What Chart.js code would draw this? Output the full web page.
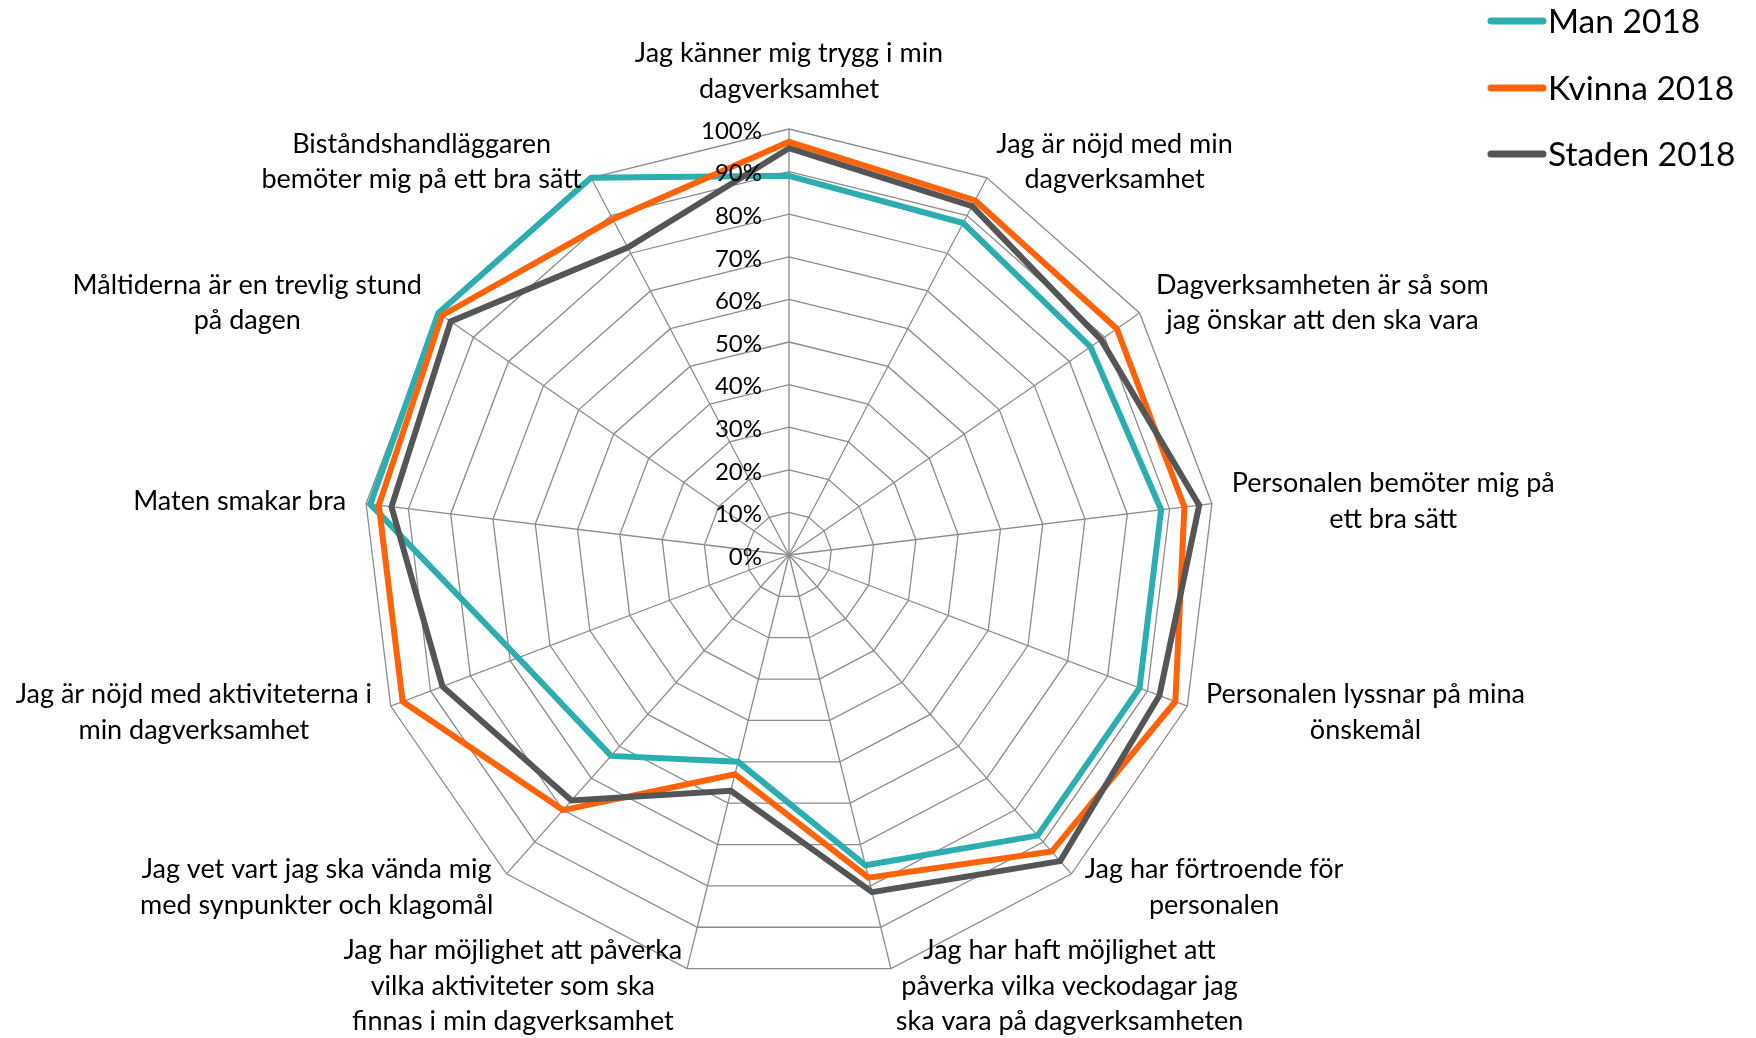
<!DOCTYPE html>
<html>
<head>
<meta charset="utf-8">
<title>Dagverksamhet 2018</title>
<script src="https://cdn.jsdelivr.net/npm/chart.js@4.4.1/dist/chart.umd.min.js"></script>
<style>
  html, body { margin: 0; padding: 0; background: #fff; }
  canvas { display: block; }
</style>
</head>
<body>
<canvas id="chart" width="1756" height="1038"></canvas>
<script>
'use strict';

// Questions, clockwise from the top. Line breaks as in the original.
var categories = [
  ['Jag känner mig trygg i min', 'dagverksamhet'],
  ['Jag är nöjd med min', 'dagverksamhet'],
  ['Dagverksamheten är så som', 'jag önskar att den ska vara'],
  ['Personalen bemöter mig på', 'ett bra sätt'],
  ['Personalen lyssnar på mina', 'önskemål'],
  ['Jag har förtroende för', 'personalen'],
  ['Jag har haft möjlighet att', 'påverka vilka veckodagar jag', 'ska vara på dagverksamheten'],
  ['Jag har möjlighet att påverka', 'vilka aktiviteter som ska', 'finnas i min dagverksamhet'],
  ['Jag vet vart jag ska vända mig', 'med synpunkter och klagomål'],
  ['Jag är nöjd med aktiviteterna i', 'min dagverksamhet'],
  ['Maten smakar bra'],
  ['Måltiderna är en trevlig stund', 'på dagen'],
  ['Biståndshandläggaren', 'bemöter mig på ett bra sätt']
];

var seriesNames = ['Man 2018', 'Kvinna 2018', 'Staden 2018'];

// Percent.
var manValues =    [89, 88, 86, 88, 88, 88, 75, 50, 63, 68, 99, 100, 100];
var kvinnaValues = [97, 94, 93.5, 93.5, 97, 93, 78, 53, 80, 97, 97, 99, 89];
var stadenValues = [95.5, 92.5, 89, 97, 93, 96, 81.5, 57, 77, 87, 94, 96.5, 81.5];

var tickValues = [0, 10, 20, 30, 40, 50, 60, 70, 80, 90, 100];

var COLORS = ['#2CAEB0', '#FF6309', '#555555'];
var GRID_COLOR = '#8C8C8C';
var FONT_FAMILY = 'Lato, "Open Sans", sans-serif';
var LABEL_FONT = '27px ' + FONT_FAMILY;
var LABEL_LINE_HEIGHT = 35.5;

/**
 * Category labels, drawn outside the polygon the way Excel places them:
 * lines centred inside their block, block pushed out sideways.
 */
var categoryLabels = {
  id: 'categoryLabels',
  afterDraw: function(chart) {
    var scale = chart.scales.r;
    var ctx = chart.ctx;
    var n = categories.length;

    ctx.save();
    ctx.font = LABEL_FONT;
    ctx.fillStyle = '#000';
    ctx.textAlign = 'center';
    ctx.textBaseline = 'middle';

    categories.forEach(function(lines, i) {
      var angle = i * 2 * Math.PI / n;
      var sin = Math.sin(angle);
      var cos = Math.cos(angle);
      var p = scale.getPointPosition(i, scale.drawingArea);
      var w = Math.max.apply(null, lines.map(function(l) {
        return ctx.measureText(l).width;
      }));
      var h = lines.length * LABEL_LINE_HEIGHT;
      var cx = p.x;
      var cy;

      if (Math.abs(sin) < 0.01) {
        // Top label sits above the tick labels.
        cy = p.y - h / 2 - 22;
      } else {
        var gap = 20 * Math.abs(sin);
        cx = sin > 0 ? p.x + gap + w / 2 : p.x - gap - w / 2;
        cy = p.y - 18 * cos;
      }

      lines.forEach(function(line, k) {
        ctx.fillText(line, cx, cy - h / 2 + LABEL_LINE_HEIGHT * (k + 0.5));
      });
    });
    ctx.restore();
  }
};

// Percent ticks up the top spoke, right aligned, on top of the lines.
var tickLabels = {
  id: 'tickLabels',
  afterDraw: function(chart) {
    var scale = chart.scales.r;
    var ctx = chart.ctx;

    ctx.save();
    ctx.font = '24px ' + FONT_FAMILY;
    ctx.fillStyle = '#000';
    ctx.textAlign = 'right';
    ctx.textBaseline = 'middle';
    tickValues.forEach(function(v) {
      var d = scale.getDistanceFromCenterForValue(v);
      ctx.fillText(v + '%', scale.xCenter - 27, scale.yCenter - d + 2);
    });
    ctx.restore();
  }
};

// Legend in the top right corner.
var cornerLegend = {
  id: 'cornerLegend',
  afterDraw: function(chart) {
    var ctx = chart.ctx;
    var rowY = [21, 88, 154];

    ctx.save();
    ctx.font = '33.5px ' + FONT_FAMILY;
    ctx.textAlign = 'left';
    ctx.textBaseline = 'middle';
    seriesNames.forEach(function(name, i) {
      ctx.strokeStyle = COLORS[i];
      ctx.lineWidth = 7;
      ctx.lineCap = 'round';
      ctx.beginPath();
      ctx.moveTo(1491, rowY[i]);
      ctx.lineTo(1543, rowY[i]);
      ctx.stroke();

      ctx.fillStyle = '#000';
      ctx.fillText(name, 1548, rowY[i] + 1);
    });
    ctx.restore();
  }
};

function makeDataset(label, values, color, order) {
  return {
    label: label,
    data: values,
    borderColor: color,
    backgroundColor: color,
    borderWidth: 6,
    borderJoinStyle: 'miter',
    fill: false,
    tension: 0,
    pointRadius: 0,
    pointHoverRadius: 0,
    order: order
  };
}

new Chart(document.getElementById('chart'), {
  type: 'radar',
  data: {
    labels: categories,
    datasets: [
      makeDataset(seriesNames[0], manValues, COLORS[0], 3),
      makeDataset(seriesNames[1], kvinnaValues, COLORS[1], 2),
      makeDataset(seriesNames[2], stadenValues, COLORS[2], 1)
    ]
  },
  options: {
    responsive: false,
    devicePixelRatio: 1,
    animation: false,
    layout: {
      // Puts the centre at (789, 555) with a 426px radius.
      padding: { left: 363, right: 541, top: 129, bottom: 57 }
    },
    plugins: {
      legend: { display: false },
      tooltip: { enabled: false }
    },
    scales: {
      r: {
        min: 0,
        max: 100,
        ticks: { display: false, stepSize: 10 },
        pointLabels: { display: false },
        grid: { color: GRID_COLOR, lineWidth: 1.3, circular: false },
        angleLines: { color: GRID_COLOR, lineWidth: 1.3 }
      }
    }
  },
  plugins: [categoryLabels, tickLabels, cornerLegend]
});
</script>
</body>
</html>
